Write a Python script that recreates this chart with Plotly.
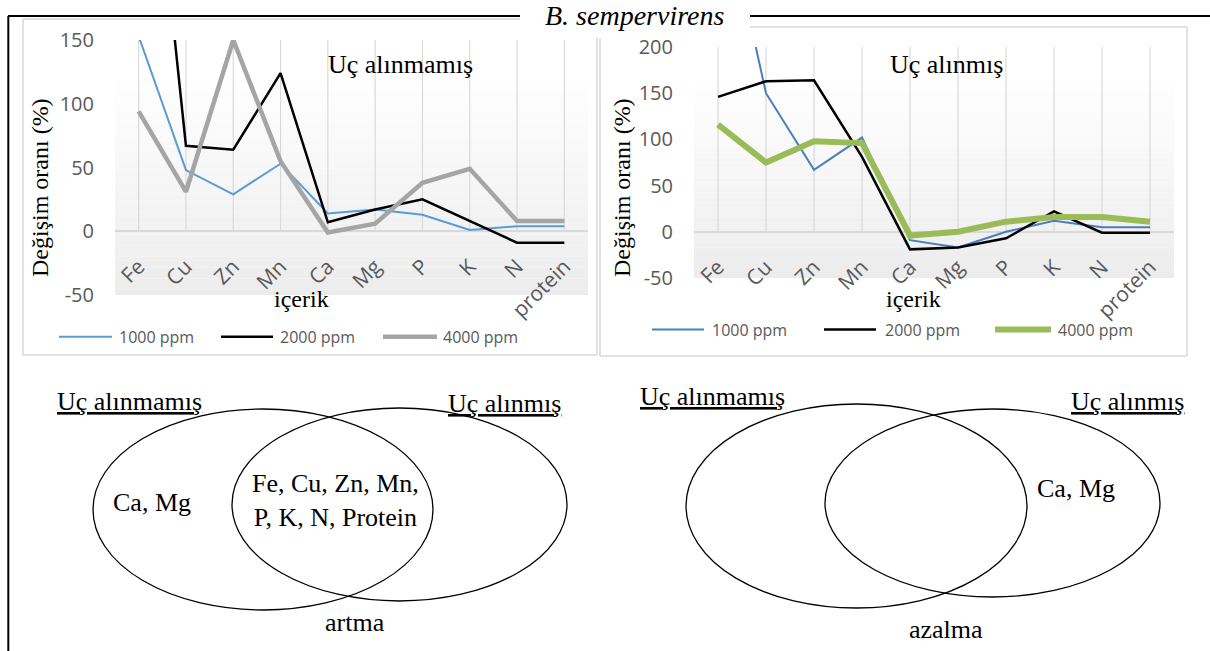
import plotly.graph_objects as go

# ---------------- data ----------------
categories = ["Fe", "Cu", "Zn", "Mn", "Ca", "Mg", "P", "K", "N", "protein"]
series_names = ["1000 ppm", "2000 ppm", "4000 ppm"]

# Uç alınmamış (left chart)
left_1000 = [153, 48, 29, 53, 14, 17, 13, 1, 4, 4]
left_2000 = [420, 67, 64, 124, 7, 17, 25, 8, -9, -9]
left_4000 = [94, 31, 150, 55, -1, 6, 38, 49, 8, 8]

# Uç alınmış (right chart)
right_1000 = [385, 150, 67, 102, -9, -17, 0, 12, 5, 5]
right_2000 = [146, 163, 164, 81, -19, -17, -7, 22, -1, -1]
right_4000 = [116, 75, 98, 96, -4, 0, 11, 16, 16, 11]

left_ticks = [-50, 0, 50, 100, 150]
right_ticks = [-50, 0, 50, 100, 150, 200]

# ---------------- helpers ----------------
W, H = 1210, 651


def px(x):
    return x / W


def py(y):
    return 1 - y / H


SERIF = "Liberation Serif"
SANS = "Open Sans"
GRAY_TXT = "#595959"
GRID = "#d9d9d9"

fig = go.Figure()

left_colors = ["#5b9bd5", "#000000", "#a5a5a5"]
left_widths = [2, 2.5, 4.5]
right_colors = ["#4a7ebb", "#000000", "#9bbb59"]
right_widths = [2, 2.5, 6]

for name, vals, c, w in zip(series_names, [left_1000, left_2000, left_4000], left_colors, left_widths):
    fig.add_trace(go.Scatter(x=categories, y=vals, mode="lines", name=name,
                             line=dict(color=c, width=w), xaxis="x", yaxis="y",
                             showlegend=False, hoverinfo="x+y+name"))
for name, vals, c, w in zip(series_names, [right_1000, right_2000, right_4000], right_colors, right_widths):
    fig.add_trace(go.Scatter(x=categories, y=vals, mode="lines", name=name,
                             line=dict(color=c, width=w), xaxis="x2", yaxis="y2",
                             showlegend=False, hoverinfo="x+y+name"))

# subplot geometry (pixels)
L_dom_x = [px(115), px(588)]
L_dom_y = [py(295), py(40)]
L_range = [min(left_ticks), max(left_ticks)]
R_dom_x = [px(694), px(1174)]
R_dom_y = [py(278), py(47)]
R_range = [min(right_ticks), max(right_ticks)]


def zero_pos(dom, rng):
    return dom[0] + (0 - rng[0]) / (rng[1] - rng[0]) * (dom[1] - dom[0])


xcommon = dict(type="category", categoryorder="array", categoryarray=categories,
               showgrid=False, showline=False, zeroline=False, ticks="",
               tickangle=-45, tickfont=dict(family=SANS, size=21, color=GRAY_TXT),
               anchor="free", automargin=False, range=[-0.5, len(categories) - 0.5],
               ticklabelstandoff=18)
ycommon = dict(showgrid=False, showline=False, zeroline=True, zerolinecolor=GRID,
               zerolinewidth=1.5, ticks="", tickfont=dict(family=SANS, size=20, color=GRAY_TXT),
               automargin=False, ticklabelstandoff=20)

fig.update_layout(
    xaxis=dict(domain=L_dom_x, position=zero_pos(L_dom_y, L_range), **xcommon),
    yaxis=dict(domain=L_dom_y, range=L_range, tickvals=left_ticks,
               ticktext=[str(v) for v in left_ticks], anchor="x", **ycommon),
    xaxis2=dict(domain=R_dom_x, position=zero_pos(R_dom_y, R_range), **xcommon),
    yaxis2=dict(domain=R_dom_y, range=R_range, tickvals=right_ticks,
                ticktext=[str(v) for v in right_ticks], anchor="x2", **ycommon),
)

shapes = []


# gradient plot backgrounds
def gradient(x0, x1, y0, y1, n=40, c_top=255, c_bot=236):
    out = []
    for i in range(n):
        ya = y0 + (y1 - y0) * i / n
        yb = y0 + (y1 - y0) * (i + 1) / n
        v = round(c_top + (c_bot - c_top) * (i + 0.5) / n)
        col = f"rgb({v},{v},{v})"
        out.append(dict(type="rect", xref="paper", yref="paper", layer="below",
                        x0=px(x0), x1=px(x1), y0=py(ya), y1=py(yb),
                        fillcolor=col, line=dict(width=0)))
    return out


shapes += gradient(115, 588, 75, 295)
shapes += gradient(694, 1174, 77, 278)

# vertical category grid lines (from 0 up to the top of the axis)
for xa, ya, rng in [("x", "y", L_range), ("x2", "y2", R_range)]:
    for c in categories:
        shapes.append(dict(type="line", xref=xa, yref=ya, layer="below",
                           x0=c, x1=c, y0=0, y1=rng[1], line=dict(color=GRID, width=1.2)))


# chart panel borders
def hline(x0, x1, y, color=GRID, w=1.5):
    return dict(type="line", xref="paper", yref="paper", x0=px(x0), x1=px(x1),
                y0=py(y), y1=py(y), line=dict(color=color, width=w))


def vline(x, y0, y1, color=GRID, w=1.5):
    return dict(type="line", xref="paper", yref="paper", x0=px(x), x1=px(x),
                y0=py(y0), y1=py(y1), line=dict(color=color, width=w))


shapes += [hline(23, 520, 19), vline(23, 19, 355), hline(23, 597, 355), vline(597, 38, 355)]
shapes += [hline(750, 1187, 27), vline(600, 38, 356), hline(600, 1187, 356), vline(1187, 27, 356)]

# outer black frame
shapes += [vline(8.3, 16, 651, "#000000", 2), hline(8, 520, 16, "#000000", 2),
           hline(750, 1210, 16, "#000000", 2)]

# manual legends
annotations = []
left_leg = dict(x0=[59, 221, 383], x1=[112, 273, 437], tx=[117, 278, 441], y=336.7)
right_leg = dict(x0=[652, 824, 995], x1=[704, 876, 1051], tx=[710, 883, 1056], y=329.5)
for leg, cols, wids in [(left_leg, left_colors, left_widths), (right_leg, right_colors, right_widths)]:
    for i, name in enumerate(series_names):
        shapes.append(hline(leg["x0"][i], leg["x1"][i], leg["y"], cols[i], wids[i]))
        annotations.append(dict(text=name, xref="paper", yref="paper", x=px(leg["tx"][i]),
                                y=py(leg["y"]), xanchor="left", yanchor="middle", showarrow=False,
                                font=dict(family=SANS, size=16, color=GRAY_TXT)))


# Venn ellipses
def ellipse(x0, x1, y0, y1):
    return dict(type="circle", xref="paper", yref="paper", x0=px(x0), x1=px(x1),
                y0=py(y1), y1=py(y0), line=dict(color="#000000", width=1.3))


shapes += [ellipse(93, 433, 409, 610), ellipse(232, 567, 408, 601),
           ellipse(686, 1027, 404, 608), ellipse(825, 1160, 409, 597)]


def txt(text, x, y, size=26, family=SERIF, color="#000000", angle=0, xanchor="center"):
    annotations.append(dict(text=text, xref="paper", yref="paper", x=px(x), y=py(y),
                            xanchor=xanchor, yanchor="middle", showarrow=False, textangle=angle,
                            font=dict(family=family, size=size, color=color)))


# title with white background box
shapes.append(dict(type="rect", xref="paper", yref="paper", x0=px(520), x1=px(750),
                   y0=py(36), y1=py(0), fillcolor="white", line=dict(width=0), layer="above"))
txt("<i>B. sempervirens</i>", 634, 15.5, size=28)

# chart titles and axis titles
txt("Uç alınmamış", 400, 64.5)
txt("Uç alınmış", 946, 65)
txt("Değişim oranı (%)", 40, 188, size=24, angle=-90)
txt("Değişim oranı (%)", 622, 188, size=24, angle=-90)
txt("içerik", 301, 298.5, size=24)
txt("içerik", 913, 298.5, size=24)

# Venn labels
txt("<u>Uç alınmamış</u>", 129, 401)
txt("<u>Uç alınmış</u>", 504, 403)
txt("Ca, Mg", 152, 503)
txt("Fe, Cu, Zn, Mn,<br>P, K, N, Protein", 335, 500)
txt("artma", 355, 622)

txt("<u>Uç alınmamış</u>", 712, 396)
txt("<u>Uç alınmış</u>", 1127, 401)
txt("Ca, Mg", 1076, 488)
txt("azalma", 946, 629.5)

fig.update_layout(
    width=W, height=H, margin=dict(l=0, r=0, t=0, b=0),
    paper_bgcolor="white", plot_bgcolor="rgba(0,0,0,0)",
    shapes=shapes, annotations=annotations, showlegend=False,
)

fig.write_html("out.html", config={"displayModeBar": False},
               post_script="document.body.style.margin='0';document.body.style.overflow='hidden';")
